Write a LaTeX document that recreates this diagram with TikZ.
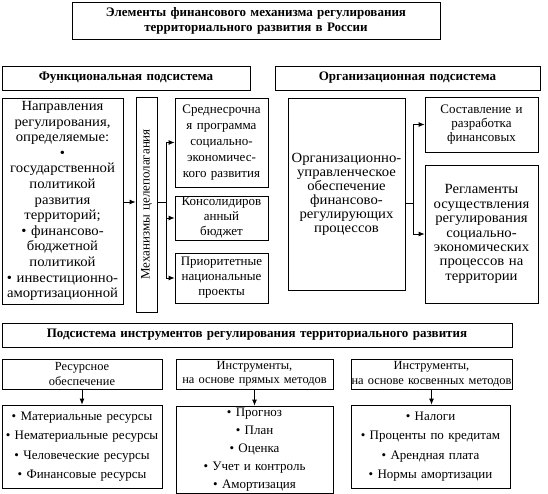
\documentclass[tikz,border=0pt]{standalone}
\usepackage{fontspec}
\setmainfont{Liberation Serif}
\newfontfamily\ancha{Liberation Serif}[FakeStretch=1.05]
\usetikzlibrary{arrows.meta}

\begin{document}
\begin{tikzpicture}[x=1pt,y=-1pt,
	caja/.style={draw,line width=0.8pt,align=center,inner sep=0pt,font=\fontsize{13}{15}\selectfont},
	cajag/.style={caja,font=\ancha\fontsize{14}{15.2}\selectfont},
	cajab/.style={caja,font=\fontsize{12.4}{14.5}\selectfont},
	titulo/.style={caja,font=\bfseries\fontsize{13}{15}\selectfont},
	lista/.style={caja,font=\fontsize{13}{19.5}\selectfont},
	flecha/.style={line width=0.8pt,-{Latex[length=6pt,width=5pt]}}]
	\useasboundingbox (0,0) rectangle (548,494);
	%titulo y subsistemas
	\node[titulo,text width=368pt,minimum height=37pt] (elem) at (256,20.5) {Элементы финансового механизма регулирования\\ территориального развития в России};
	\node[titulo,text width=248pt,minimum height=24pt] (func) at (126,78) {Функциональная подсистема};
	\node[titulo,text width=265pt,minimum height=24pt] (orgs) at (407.5,78) {Организационная подсистема};
	%subsistema funcional
	\node[cajag,text width=121pt,minimum height=206pt,font=\ancha\fontsize{14}{15.6}\selectfont] (napr) at (62.5,201) {Направления\\ регулирования,\\ определяемые:\\ •\\ государственной\\ политикой\\ развития\\ территорий;\\ • финансово-\\ бюджетной\\ политикой\\ • инвестиционно-\\ амортизационной};
	\node[caja,text width=21pt,minimum height=215pt] (mech) at (146.5,204.5) {\rotatebox{90}{Механизмы целеполагания}};
	\node[caja,text width=93pt,minimum height=89pt,font=\fontsize{13}{16}\selectfont] (sred) at (221.5,142.5) {Среднесрочна\\ я программа\\ социально-\\ экономичес-\\ кого развития};
	\node[caja,text width=93pt,minimum height=44pt] (kons) at (221.5,218) {Консолидиров\\ анный\\ бюджет};
	\node[caja,text width=93pt,minimum height=50pt] (prior) at (221.5,278) {Приоритетные\\ национальные\\ проекты};
	\coordinate (jf) at (166,202);
	\draw[flecha] (napr.east |- jf) -- (mech.west |- jf);
	\draw[line width=0.8pt] (mech.east |- jf) -- (jf);
	\draw[line width=0.8pt] (jf |- sred.west) -- (jf |- prior.west);
	\foreach \b in {sred,kons,prior}
		\draw[flecha] (jf |- \b.west) -- (\b.west);
	%subsistema organizacional
	\node[cajag,text width=117pt,minimum height=192pt,font=\ancha\fontsize{14}{14}\selectfont] (orgob) at (346.5,194) {Организационно-\\ управленческое\\ обеспечение\\ финансово-\\ регулирующих\\ процессов};
	\node[caja,text width=113pt,minimum height=55pt,font=\fontsize{13}{14}\selectfont] (sost) at (481.5,124.5) {Составление и\\ разработка\\ финансовых};
	\node[cajag,text width=113pt,minimum height=138pt,font=\ancha\fontsize{14}{14.4}\selectfont] (regl) at (481.5,234) {Регламенты\\ осуществления\\ регулирования\\ социально-\\ экономических\\ процессов на\\ территории};
	\coordinate (jo) at (413,203);
	\draw[line width=0.8pt] (orgob.east |- jo) -- (jo);
	\draw[line width=0.8pt] (jo |- sost.west) -- (jo |- regl.west);
	\foreach \b in {sost,regl}
		\draw[flecha] (jo |- \b.west) -- (\b.west);
	%subsistema de instrumentos
	\node[titulo,text width=510pt,minimum height=24pt] (instr) at (257,335) {Подсистема инструментов регулирования территориального развития};
	\node[cajab,text width=160pt,minimum height=30pt] (res) at (82,374) {Ресурсное\\ обеспечение};
	\node[cajab,text width=157pt,minimum height=30pt] (pryam) at (254.5,374) {Инструменты,\\ на основе прямых методов};
	\node[cajab,text width=161pt,minimum height=30pt] (kosv) at (431.5,374) {Инструменты,\\ на основе косвенных методов};
	\node[lista,text width=160pt,minimum height=83pt] (resL) at (82,446.5) {• Материальные ресурсы\\ • Нематериальные ресурсы\\ • Человеческие ресурсы\\ • Финансовые ресурсы};
	\node[lista,text width=157pt,minimum height=87pt,font=\fontsize{13}{18}\selectfont] (pryamL) at (254.5,449.5) {• Прогноз\\ • План\\ • Оценка\\ • Учет и контроль\\ • Амортизация};
	\node[lista,text width=159pt,minimum height=83pt] (kosvL) at (430.5,446.5) {• Налоги\\ • Проценты по кредитам\\ • Арендная плата\\ • Нормы амортизации};
	\foreach \a/\b in {res/resL,pryam/pryamL,kosv/kosvL}
		\draw[flecha] (\a.south) -- (\a.south |- \b.north);
\end{tikzpicture}
\end{document}
